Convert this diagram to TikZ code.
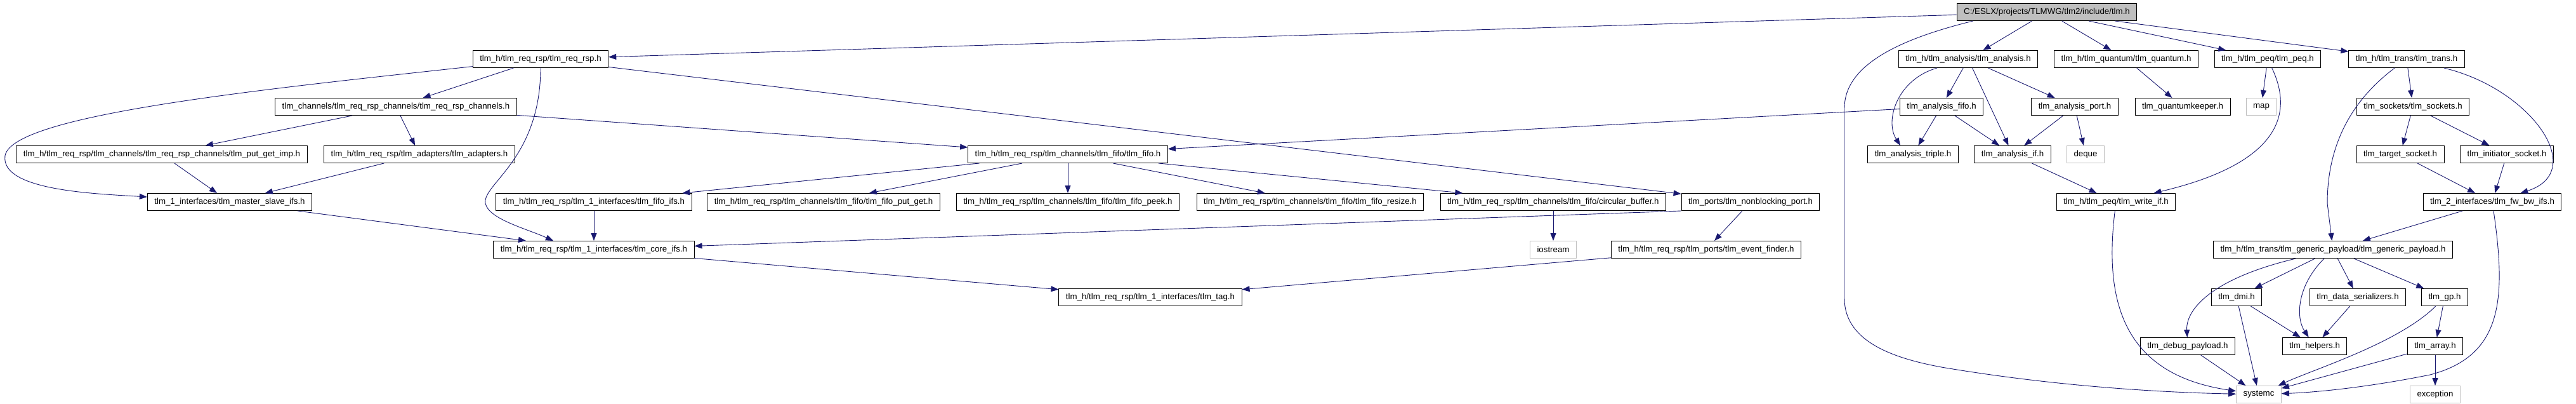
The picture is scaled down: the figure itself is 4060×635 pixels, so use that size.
\documentclass[tikz,border=0pt]{standalone}
\usepackage{fontspec}
\setmainfont{Liberation Sans}
\usetikzlibrary{arrows.meta}

\definecolor{edgeblue}{HTML}{191970}
\definecolor{sysgray}{HTML}{BFBFBF}

\begin{document}
\begin{tikzpicture}[x=1pt, y=-1pt,
  box/.style={draw=black, line width=1pt, fill=white, inner xsep=11pt, inner ysep=0pt,
    minimum height=27pt, font=\fontsize{13.3}{16}\selectfont},
  sysbox/.style={box, draw=sysgray},
  rootbox/.style={box, fill=sysgray},
  edge/.style={draw=edgeblue, line width=0.9pt, -{Triangle[length=12pt,width=9pt]}}]

  % 行高（像素坐标，向下为正）
  \pgfmathsetmacro{\rA}{19}
  \pgfmathsetmacro{\rB}{93}
  \pgfmathsetmacro{\rC}{168}
  \pgfmathsetmacro{\rD}{243}
  \pgfmathsetmacro{\rE}{318}
  \pgfmathsetmacro{\rF}{393}
  \pgfmathsetmacro{\rG}{468}
  \pgfmathsetmacro{\rH}{545}
  \pgfmathsetmacro{\rI}{621}

  \useasboundingbox (0,0) rectangle (4060,635);

  % ---- 根节点 ----
  \node[rootbox] (tlm) at (3226,\rA) {C:/ESLX/projects/TLMWG/tlm2/include/tlm.h};

  % ---- 左侧：tlm_req_rsp ----
  \node[box] (rr)   at (852,\rB) {tlm\_h/tlm\_req\_rsp/tlm\_req\_rsp.h};
  \node[box] (rrch) at (624,\rC) {tlm\_channels/tlm\_req\_rsp\_channels/tlm\_req\_rsp\_channels.h};
  \node[box] (pgi)  at (255,\rD) {tlm\_h/tlm\_req\_rsp/tlm\_channels/tlm\_req\_rsp\_channels/tlm\_put\_get\_imp.h};
  \node[box] (adp)  at (661,\rD) {tlm\_h/tlm\_req\_rsp/tlm\_adapters/tlm\_adapters.h};
  \node[box] (fifo) at (1683,\rD) {tlm\_h/tlm\_req\_rsp/tlm\_channels/tlm\_fifo/tlm\_fifo.h};
  \node[box] (ms)   at (362,\rE) {tlm\_1\_interfaces/tlm\_master\_slave\_ifs.h};
  \node[box] (fifoifs)    at (936,\rE)  {tlm\_h/tlm\_req\_rsp/tlm\_1\_interfaces/tlm\_fifo\_ifs.h};
  \node[box] (fifopg)     at (1298,\rE) {tlm\_h/tlm\_req\_rsp/tlm\_channels/tlm\_fifo/tlm\_fifo\_put\_get.h};
  \node[box] (fifopeek)   at (1683,\rE) {tlm\_h/tlm\_req\_rsp/tlm\_channels/tlm\_fifo/tlm\_fifo\_peek.h};
  \node[box] (fiforesize) at (2065,\rE) {tlm\_h/tlm\_req\_rsp/tlm\_channels/tlm\_fifo/tlm\_fifo\_resize.h};
  \node[box] (cbuf) at (2448,\rE) {tlm\_h/tlm\_req\_rsp/tlm\_channels/tlm\_fifo/circular\_buffer.h};
  \node[box] (nbp)  at (2759,\rE) {tlm\_ports/tlm\_nonblocking\_port.h};
  \node[box] (core) at (936,\rF) {tlm\_h/tlm\_req\_rsp/tlm\_1\_interfaces/tlm\_core\_ifs.h};
  \node[sysbox] (iostream) at (2448,\rF) {iostream};
  \node[box] (evf)  at (2689,\rF) {tlm\_h/tlm\_req\_rsp/tlm\_ports/tlm\_event\_finder.h};
  \node[box] (tag)  at (1813,\rG) {tlm\_h/tlm\_req\_rsp/tlm\_1\_interfaces/tlm\_tag.h};

  % ---- 右侧：analysis / quantum / peq / trans ----
  \node[box] (ana)     at (3102,\rB) {tlm\_h/tlm\_analysis/tlm\_analysis.h};
  \node[box] (qua)     at (3351,\rB) {tlm\_h/tlm\_quantum/tlm\_quantum.h};
  \node[box] (peq)     at (3574,\rB) {tlm\_h/tlm\_peq/tlm\_peq.h};
  \node[box] (trans)   at (3793,\rB) {tlm\_h/tlm\_trans/tlm\_trans.h};
  \node[box] (anafifo) at (3060,\rC) {tlm\_analysis\_fifo.h};
  \node[box] (anaport) at (3270,\rC) {tlm\_analysis\_port.h};
  \node[box] (qk)      at (3440,\rC) {tlm\_quantumkeeper.h};
  \node[sysbox] (map)  at (3564,\rC) {map};
  \node[box] (sockets) at (3803,\rC) {tlm\_sockets/tlm\_sockets.h};
  \node[box] (triple)  at (3015,\rD) {tlm\_analysis\_triple.h};
  \node[box] (anaif)   at (3172,\rD) {tlm\_analysis\_if.h};
  \node[sysbox] (deque) at (3287,\rD) {deque};
  \node[box] (tsock)   at (3783,\rD) {tlm\_target\_socket.h};
  \node[box] (isock)   at (3951,\rD) {tlm\_initiator\_socket.h};
  \node[box] (writeif) at (3335,\rE) {tlm\_h/tlm\_peq/tlm\_write\_if.h};
  \node[box] (fwbw)    at (3928,\rE) {tlm\_2\_interfaces/tlm\_fw\_bw\_ifs.h};
  \node[box] (gpay)    at (3677,\rF) {tlm\_h/tlm\_trans/tlm\_generic\_payload/tlm\_generic\_payload.h};
  \node[box] (dmi)     at (3525,\rG) {tlm\_dmi.h};
  \node[box] (ser)     at (3716,\rG) {tlm\_data\_serializers.h};
  \node[box] (gp)      at (3853,\rG) {tlm\_gp.h};
  \node[box] (dbg)     at (3448,\rH) {tlm\_debug\_payload.h};
  \node[box] (helpers) at (3648,\rH) {tlm\_helpers.h};
  \node[box] (array)   at (3838,\rH) {tlm\_array.h};
  \node[sysbox] (systemc)   at (3560,\rI) {systemc};
  \node[sysbox] (exception) at (3838,\rI) {exception};

  % ---- 根节点的连线 ----
  \draw[edge] (tlm) -- (rr);
  \draw[edge] (tlm) -- (ana);
  \draw[edge] (tlm) -- (qua);
  \draw[edge] (tlm) -- (peq);
  \draw[edge] (tlm) -- (trans);
  \draw[edge] ([xshift=26pt]tlm.south west) .. controls (3000,60) and (2907,100) .. (2907,170)
    -- (2907,470) .. controls (2907,540) and (2990,565) .. (3060,578)
    .. controls (3250,610) and (3420,618) .. (systemc);

  % ---- tlm_req_rsp 部分 ----
  \draw[edge] (rr) -- (rrch);
  \draw[edge] (rr) -- (nbp);
  \draw[edge] (rr) .. controls (420,140) and (20,180) .. (8,245)
    .. controls (0,300) and (150,305) .. (ms);
  \draw[edge] (rr.south) .. controls (852,250) and (760,290) .. (765,320)
    .. controls (770,345) and (830,360) .. ([xshift=-64pt]core.north);
  \draw[edge] (rrch) -- (pgi);
  \draw[edge] (rrch) -- (adp);
  \draw[edge] (rrch) -- (fifo);
  \draw[edge] (pgi) -- (ms);
  \draw[edge] (adp) -- (ms);
  \draw[edge] (ms) -- (core);
  \draw[edge] (fifoifs) -- (core);
  \draw[edge] (core) -- (tag);
  \draw[edge] (fifo) -- (fifoifs);
  \draw[edge] (fifo) -- (fifopg);
  \draw[edge] (fifo) -- (fifopeek);
  \draw[edge] (fifo) -- (fiforesize);
  \draw[edge] (fifo) -- (cbuf);
  \draw[edge] (cbuf) -- (iostream);
  \draw[edge] (nbp.south west) -- (core);
  \draw[edge] (nbp) -- (evf);
  \draw[edge] (evf) -- (tag);

  % ---- analysis / quantum / peq ----
  \draw[edge] (ana) -- (anafifo);
  \draw[edge] (ana) -- (anaif);
  \draw[edge] (ana) -- (anaport);
  \draw[edge] (ana) .. controls (2990,125) and (2970,190) .. ([xshift=-20pt]triple.north);
  \draw[edge] (anafifo) -- (fifo);
  \draw[edge] (anafifo) -- (triple);
  \draw[edge] (anafifo) -- (anaif);
  \draw[edge] (anaport) -- (anaif);
  \draw[edge] (anaport) -- (deque);
  \draw[edge] (anaif) -- (writeif);
  \draw[edge] (qua) -- (qk);
  \draw[edge] (peq) -- (map);
  \draw[edge] (peq) .. controls (3625,200) and (3560,265) .. (writeif);
  \draw[edge] (writeif) .. controls (3315,480) and (3350,590) .. (systemc);

  % ---- tlm_trans 部分 ----
  \draw[edge] (trans) -- (sockets);
  \draw[edge] (trans) .. controls (3990,140) and (4080,270) .. (fwbw);
  \draw[edge] (trans) .. controls (3690,170) and (3668,250) .. (3668,320) -- (gpay);
  \draw[edge] (sockets) -- (tsock);
  \draw[edge] (sockets) -- (isock);
  \draw[edge] (tsock) -- (fwbw);
  \draw[edge] (isock) -- (fwbw);
  \draw[edge] (fwbw) -- (gpay);
  \draw[edge] (fwbw) .. controls (3950,470) and (3945,560) .. (3830,590)
    .. controls (3720,612) and (3640,618) .. (systemc);
  \draw[edge] (gpay) .. controls (3480,440) and (3445,490) .. (dbg);
  \draw[edge] (gpay) -- (dmi);
  \draw[edge] (gpay) .. controls (3620,450) and (3618,500) .. (helpers);
  \draw[edge] (gpay) -- (ser);
  \draw[edge] (gpay) -- (gp);
  \draw[edge] (dmi) -- (systemc);
  \draw[edge] (dmi) -- (helpers);
  \draw[edge] (ser) -- (helpers);
  \draw[edge] (gp) .. controls (3780,540) and (3650,580) .. (systemc);
  \draw[edge] (gp) -- (array);
  \draw[edge] (array) -- (systemc);
  \draw[edge] (array) -- (exception);
  \draw[edge] (dbg) -- (systemc);

\end{tikzpicture}
\end{document}
